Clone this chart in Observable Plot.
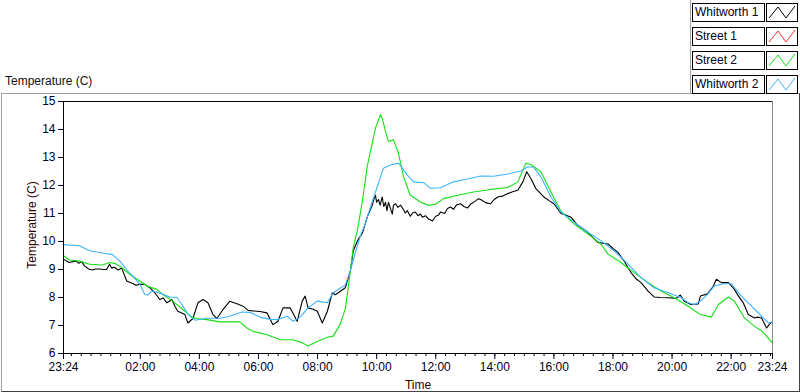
<!DOCTYPE html>
<html>
<head>
<meta charset="utf-8">
<script src="https://cdn.jsdelivr.net/npm/d3@7"></script>
<script src="https://cdn.jsdelivr.net/npm/@observablehq/plot@0.6"></script>
<style>
  html, body { margin: 0; padding: 0; background: #fff; }
  body { width: 800px; height: 392px; overflow: hidden; font-family: "Liberation Sans", Arial, sans-serif; font-size: 12px; }
  #wrap { position: relative; width: 800px; height: 392px; }
  .abs { position: absolute; }
  #panel { left: 1px; top: 93px; width: 797px; height: 297px; border-top: 1px solid #a0a0a0; border-left: 1px solid #a0a0a0; border-right: 1px solid #404040; border-bottom: 1px solid #404040; }
  #legendEdge { left: 690px; top: 0px; width: 0; height: 93px; border-left: 1px solid #a0a0a0; }
  #title { left: 5px; top: 74px; color: #111; white-space: nowrap; }
  #ylab { left: 32px; top: 225px; transform: translate(-50%, -50%) rotate(-90deg); white-space: nowrap; color: #2a0000; }
  #xlab { left: 418px; top: 385px; transform: translate(-50%, -50%); color: #2a0000; }
  .lgbox { position: absolute; left: 692px; width: 69px; height: 17px; border: 1px solid #000; background: #fff; line-height: 17px; padding-left: 2px; box-sizing: content-box; color: #000020; white-space: nowrap; }
  .lgsw { position: absolute; left: 766px; width: 30px; height: 17px; border: 1px solid #000; background: #fff; }
  #chart { position: absolute; left: 0; top: 0; }
</style>
</head>
<body>
<div id="wrap">
  <div id="panel" class="abs"></div>
  <div id="legendEdge" class="abs"></div>
  <div id="title" class="abs">Temperature (C)</div>
  <div id="ylab" class="abs">Temperature (C)</div>
  <div id="xlab" class="abs">Time</div>
  <div id="legend"></div>
  <div id="chart"></div>
</div>
<script>
// ---- series names & colours ----
const seriesNames = ["Whitworth 1", "Street 1", "Street 2", "Whitworth 2"];
const seriesColors = ["#000000", "#ff3030", "#14e014", "#3cb4ff"];

// ---- tick labels ----
const xTickLabels = ["23:24","02:00","04:00","06:00","08:00","10:00","12:00","14:00","16:00","18:00","20:00","22:00","23:24"];
const yTickValues = [6, 7, 8, 9, 10, 11, 12, 13, 14, 15];

// ---- data: hours after 23:24 and temperature (C) ----
const w1Hours = [0.00,0.10,0.20,0.30,0.44,0.52,0.61,0.71,0.85,0.98,1.10,1.22,1.35,1.46,1.56,1.63,1.73,1.85,1.97,2.14,2.34,2.45,2.58,2.75,2.92,3.09,3.26,3.38,3.50,3.67,3.77,3.87,4.00,4.11,4.21,4.38,4.55,4.72,4.89,5.06,5.19,5.40,5.63,5.75,5.87,6.08,6.25,6.45,6.65,6.89,7.09,7.26,7.43,7.67,7.91,8.08,8.18,8.28,8.45,8.59,8.76,8.93,9.10,9.20,9.30,9.54,9.71,9.81,9.98,10.12,10.28,10.45,10.52,10.56,10.60,10.66,10.72,10.79,10.84,10.90,10.95,11.00,11.06,11.13,11.17,11.24,11.32,11.41,11.50,11.57,11.64,11.74,11.82,11.91,12.00,12.08,12.15,12.25,12.36,12.49,12.60,12.70,12.76,12.90,13.00,13.10,13.20,13.30,13.44,13.55,13.68,13.80,13.95,14.05,14.15,14.30,14.46,14.58,14.70,14.85,15.04,15.20,15.38,15.55,15.68,15.82,15.99,16.26,16.45,16.60,16.84,17.00,17.18,17.41,17.60,17.75,17.95,18.09,18.25,18.43,18.60,18.77,18.97,19.21,19.40,19.55,19.79,19.99,20.20,20.47,20.74,20.88,21.01,21.25,21.49,21.56,21.80,22.00,22.10,22.27,22.51,22.71,22.85,23.01,23.18,23.39,23.50,23.63,23.80,23.90,24.00];
const w1Temp  = [9.37,9.30,9.25,9.28,9.30,9.22,9.28,9.13,9.02,8.98,9.02,9.02,9.00,9.00,9.19,9.05,9.08,8.98,9.05,8.59,8.50,8.44,8.47,8.47,8.35,8.17,7.93,7.98,7.81,7.93,7.69,7.51,7.45,7.39,7.09,7.25,7.81,7.93,7.81,7.39,7.25,7.57,7.87,7.82,7.78,7.69,7.54,7.52,7.50,7.45,7.03,7.15,7.63,7.63,7.15,7.87,8.05,7.63,7.58,7.51,7.09,7.50,8.17,8.10,8.17,8.35,8.95,9.67,10.09,10.30,10.87,11.29,11.55,11.65,11.40,11.50,11.30,11.59,11.25,11.40,11.10,11.40,11.20,10.98,11.30,11.35,11.22,11.30,11.15,11.02,11.10,10.90,11.02,11.05,10.92,10.98,10.87,10.92,10.80,10.73,10.90,10.95,11.05,11.00,11.18,11.23,11.15,11.30,11.35,11.25,11.20,11.35,11.45,11.53,11.48,11.38,11.35,11.50,11.59,11.62,11.71,11.78,11.83,12.13,12.49,12.25,11.89,11.59,11.45,11.35,11.00,10.95,10.87,10.57,10.45,10.33,10.10,9.97,9.94,9.91,9.75,9.61,9.31,8.89,8.65,8.53,8.23,8.02,8.00,7.99,7.97,8.09,7.87,7.75,7.77,8.05,8.13,8.41,8.65,8.53,8.53,8.29,8.05,7.81,7.39,7.27,7.30,7.27,6.91,7.05,7.13];

const s1Hours = [];
const s1Temp  = [];

const s2Hours = [0.00,0.20,0.54,0.88,1.32,1.56,1.73,1.97,2.24,2.58,2.82,3.16,3.36,3.70,4.04,4.34,4.51,4.85,5.30,5.97,6.21,6.42,6.89,7.33,7.77,8.11,8.28,8.59,8.93,9.13,9.37,9.54,9.67,9.81,9.95,10.12,10.28,10.45,10.56,10.73,10.79,10.90,11.00,11.17,11.34,11.51,11.74,12.08,12.36,12.59,12.86,13.34,13.88,14.46,15.04,15.38,15.55,15.65,15.82,16.16,16.50,16.84,17.28,17.75,18.19,18.43,18.87,19.31,19.79,20.23,20.67,21.15,21.56,21.93,22.17,22.51,22.71,23.05,23.39,23.63,23.86,24.00];
const s2Temp  = [9.49,9.34,9.30,9.19,9.16,9.25,9.22,9.07,8.83,8.59,8.41,8.29,8.11,7.87,7.57,7.30,7.25,7.21,7.13,7.13,6.91,6.79,6.67,6.49,6.49,6.37,6.27,6.43,6.58,6.62,7.05,7.60,8.60,9.80,10.40,11.47,12.67,13.51,14.05,14.53,14.40,13.93,13.57,13.63,13.15,12.31,11.65,11.41,11.29,11.33,11.53,11.65,11.77,11.86,11.93,12.13,12.55,12.79,12.75,12.49,11.77,11.08,10.63,10.27,9.91,9.55,9.25,8.89,8.53,8.23,7.99,7.69,7.39,7.30,7.75,8.02,7.87,7.27,6.97,6.81,6.55,6.37];

const w2Hours = [0.00,0.54,0.88,1.32,1.66,1.90,2.14,2.34,2.58,2.75,2.85,2.99,3.36,3.60,3.84,4.01,4.21,4.45,4.85,5.30,5.63,6.04,6.31,6.65,6.99,7.23,7.57,7.77,8.01,8.28,8.59,8.93,9.13,9.54,9.71,9.88,10.05,10.22,10.39,10.62,10.83,11.07,11.34,11.47,11.64,11.85,12.19,12.42,12.76,13.20,13.68,14.12,14.56,15.04,15.48,15.72,15.92,16.16,16.50,16.84,17.28,17.75,18.19,18.64,19.11,19.55,19.99,20.47,20.91,21.15,21.35,21.56,21.80,22.03,22.37,22.61,22.71,22.95,23.29,23.63,23.86,24.00];
const w2Temp  = [9.89,9.85,9.67,9.59,9.53,9.31,8.99,8.77,8.48,8.11,8.09,8.23,8.12,8.02,8.00,7.75,7.40,7.19,7.26,7.26,7.33,7.48,7.47,7.30,7.22,7.21,7.33,7.15,7.30,7.63,7.87,7.81,8.17,8.45,8.95,9.60,10.20,10.65,11.23,11.95,12.62,12.73,12.80,12.62,12.37,12.13,12.10,11.90,11.92,12.13,12.23,12.34,12.33,12.41,12.52,12.67,12.65,12.31,11.59,11.05,10.69,10.33,10.03,9.67,9.19,8.71,8.35,8.17,7.99,7.81,7.75,7.87,8.11,8.41,8.49,8.49,8.35,8.05,7.69,7.33,7.09,7.13];

// ---- build table ----
const start = new Date(2024, 0, 1, 23, 24);
const end = new Date(2024, 0, 2, 23, 24);
const toDate = h => new Date(+start + h * 3600e3);
const seriesHours = [w1Hours, s1Hours, s2Hours, w2Hours];
const seriesTemps = [w1Temp, s1Temp, s2Temp, w2Temp];
const rows = [];
seriesNames.forEach((name, i) => {
  seriesHours[i].forEach((h, j) => rows.push({series: name, time: toDate(h), temp: seriesTemps[i][j]}));
});

// tick positions
const majorTicks = xTickLabels.map((s, i) => {
  const [hh, mm] = s.split(":").map(Number);
  return i === 0 ? new Date(2024, 0, 1, hh, mm) : new Date(2024, 0, 2, hh, mm);
});
const minorTicks = d3.timeMinute.every(20).range(start, end);
const fmt = d3.timeFormat("%H:%M");

const chart = Plot.plot({
  width: 800,
  height: 392,
  marginLeft: 63,
  marginRight: 28,
  marginTop: 101,
  marginBottom: 39,
  style: {background: "transparent", fontFamily: "'Liberation Sans', Arial, sans-serif", fontSize: "12px", color: "#000020", overflow: "visible"},
  x: {type: "time", domain: [start, end]},
  y: {domain: [6, 15]},
  color: {domain: seriesNames, range: seriesColors},
  marks: [
    Plot.axisY(yTickValues, {tickSize: 5, tickPadding: 3, label: null, tickFormat: d => String(d)}),
    Plot.axisX(minorTicks, {tickSize: 3, tickFormat: () => "", label: null}),
    Plot.axisX(majorTicks, {tickSize: 6, tickPadding: 3, tickFormat: fmt, label: null}),
    Plot.line(rows, {x: "time", y: "temp", z: "series", stroke: "series", strokeWidth: 1.1}),
    Plot.frame({stroke: "#000"}),
    Plot.ruleX([end], {stroke: "#8a8a8a"})
  ]
});
document.getElementById("chart").appendChild(chart);

// ---- legend ----
const legend = document.getElementById("legend");
const rowTops = [3, 27, 51, 75];
seriesNames.forEach((name, i) => {
  const box = document.createElement("div");
  box.className = "lgbox";
  box.style.top = rowTops[i] + "px";
  box.textContent = name;
  legend.appendChild(box);
  const sw = document.createElement("div");
  sw.className = "lgsw";
  sw.style.top = rowTops[i] + "px";
  sw.innerHTML = `<svg width="30" height="17"><polyline points="2,14 11,3 19,14 28,2" fill="none" stroke="${seriesColors[i]}" stroke-width="1"/></svg>`;
  legend.appendChild(sw);
});
</script>
</body>
</html>
